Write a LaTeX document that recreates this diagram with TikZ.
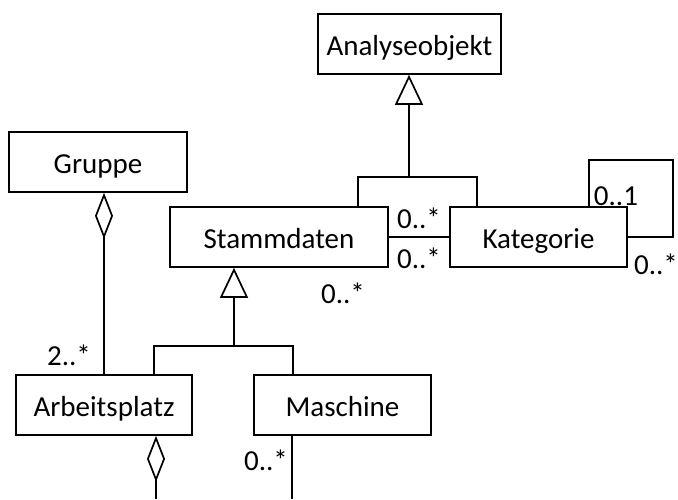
\documentclass[tikz,border=0pt]{standalone}
\usepackage{fontspec}
\setmainfont{Carlito}
\usetikzlibrary{arrows.meta}
\begin{document}
\begin{tikzpicture}[x=1pt,y=-1pt,
  line width=1.7pt,
  every node/.style={font=\fontsize{29}{34}\selectfont},
  classbox/.style={draw, rectangle, inner sep=0pt, minimum height=60pt,
    text height=22pt, text depth=0pt},
  mult/.style={inner sep=0pt},
  gen/.style={-{Triangle[open,length=30pt,width=28pt,line width=1.7pt,fill=white]}},
  agg/.style={-{Diamond[open,length=46pt,width=18pt,line width=1.7pt,fill=white]}}]
\useasboundingbox (0,0) rectangle (678,499);

% classes
\node[classbox, minimum width=183pt] (ana) at (409.5,44) {Analyseobjekt};
\node[classbox, minimum width=178pt] (grp) at (98,162) {Gruppe};
\node[classbox, minimum width=218pt] (stm) at (279,237) {Stammdaten};
\node[classbox, minimum width=177pt] (kat) at (538.5,237) {Kategorie};
\node[classbox, minimum width=176pt] (arb) at (104,405) {Arbeitsplatz};
\node[classbox, minimum width=177pt] (mas) at (342.5,405) {Maschine};

% generalisation: Stammdaten, Kategorie -> Analyseobjekt
\coordinate (g1) at (409,177);
\draw (stm.north -| 358,0) |- (g1) -| (kat.north -| 477,0);
\draw[gen] (g1) -- (g1 |- ana.south);

% generalisation: Arbeitsplatz, Maschine -> Stammdaten
\coordinate (g2) at (234,346);
\draw (arb.north -| 154,0) |- (g2) -| (mas.north -| 293,0);
\draw[gen] (g2) -- (g2 |- stm.south);

% aggregation Gruppe <>- Arbeitsplatz
\draw[agg] (arb.north) -- (arb.north |- grp.south);

% association Stammdaten -- Kategorie
\draw (stm.east) -- (kat.west);

% reflexive association on Kategorie
\coordinate (k1) at (589,160);
\coordinate (k2) at (673,237);
\draw (kat.north -| k1) -- (k1) -| (k2) -- (kat.east);

% lines leaving downwards
\coordinate (a1) at (156,499);
\coordinate (m1) at (292,499);
\draw[agg] (a1) -- (a1 |- arb.south);
\draw (mas.south -| m1) -- (m1);

% multiplicities
\node[mult] (m-sk1) at (419,218) {0..*};
\node[mult] (m-sk2) at (419,258) {0..*};
\node[mult] (m-k1) at (616,196) {0..1};
\node[mult] (m-k2) at (656,264) {0..*};
\node[mult] (m-s) at (343,293) {0..*};
\node[mult] (m-a) at (69,355) {2..*};
\node[mult] (m-m) at (266,460) {0..*};
\end{tikzpicture}
\end{document}
